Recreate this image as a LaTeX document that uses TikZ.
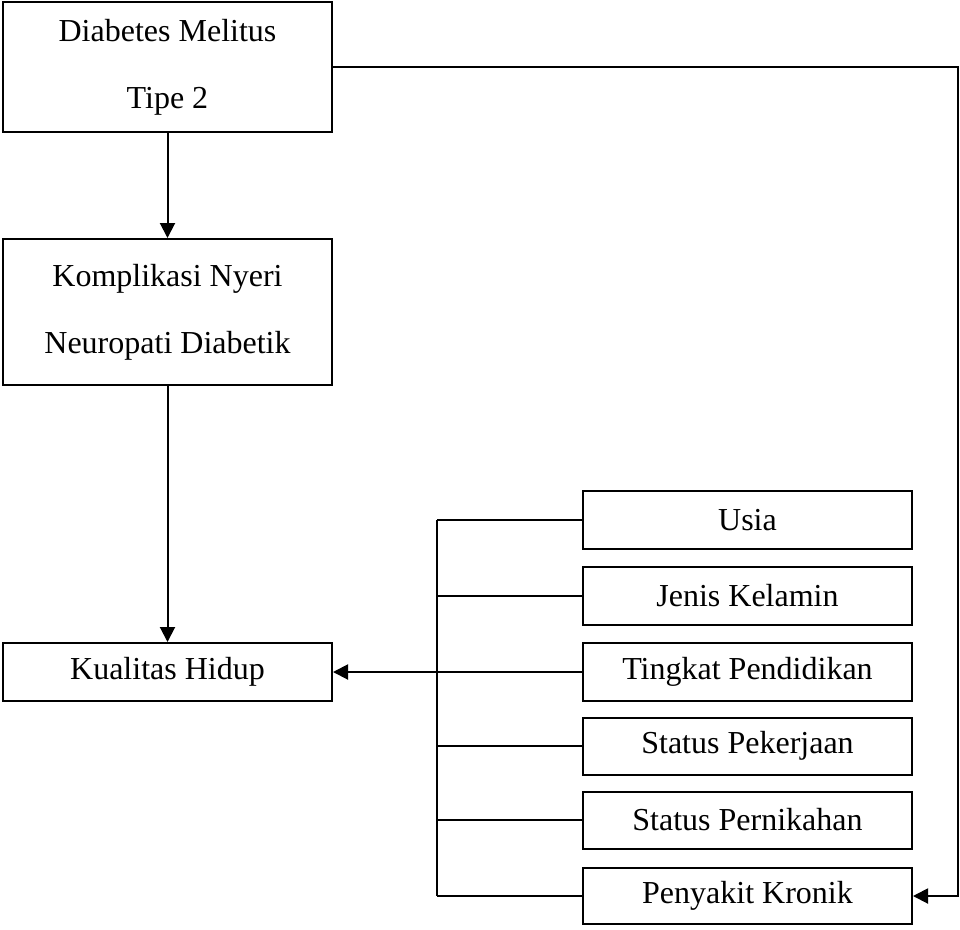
\documentclass[tikz,border=0pt]{standalone}
\usepackage{fontspec}
\setmainfont{Liberation Serif}
\usetikzlibrary{arrows.meta}
\tikzset{
  box/.style={draw, line width=2pt, minimum width=329pt, inner sep=0pt, align=center,
    font=\fontsize{32}{67}\selectfont},
  conn/.style={line width=2pt},
  arr/.style={conn, -{Triangle[length=15pt,width=15pt]}}
}
\begin{document}
\begin{tikzpicture}[x=1pt,y=-1pt]
\useasboundingbox (0,0) rectangle (960,929);
\node[box, minimum height=130pt] (dm) at (167.5,67) {Diabetes Melitus\\Tipe 2};
\node[box, minimum height=146pt] (kn) at (167.5,312) {Komplikasi Nyeri\\Neuropati Diabetik};
\node[box, minimum height=58pt] (kh) at (167.5,672) {Kualitas Hidup};
\node[box, minimum height=58pt] (us) at (747.5,520) {Usia};
\node[box, minimum height=58pt] (jk) at (747.5,596) {Jenis Kelamin};
\node[box, minimum height=58pt] (tp) at (747.5,672) {Tingkat Pendidikan};
\node[box, minimum height=57pt] (sk) at (747.5,746) {Status Pekerjaan};
\node[box, minimum height=57pt] (sn) at (747.5,820) {Status Pernikahan};
\node[box, minimum height=56pt] (pk) at (747.5,896) {Penyakit Kronik};
\coordinate (bt) at (437,520);
\coordinate (bb) at (437,896);
\coordinate (rc) at (958,67);
\draw[arr] (dm) -- (kn);
\draw[arr] (kn) -- (kh);
\draw[arr] (tp) -- (kh);
\draw[conn] (bt) -- (bb);
\draw[conn] (bt) -- (us.west);
\draw[conn] (jk.west) -- (jk.west -| bt);
\draw[conn] (sk.west) -- (sk.west -| bt);
\draw[conn] (sn.west) -- (sn.west -| bt);
\draw[conn] (bb) -- (pk.west);
\draw[arr] (dm.east) -- (rc) |- (pk.east);
\end{tikzpicture}
\end{document}
